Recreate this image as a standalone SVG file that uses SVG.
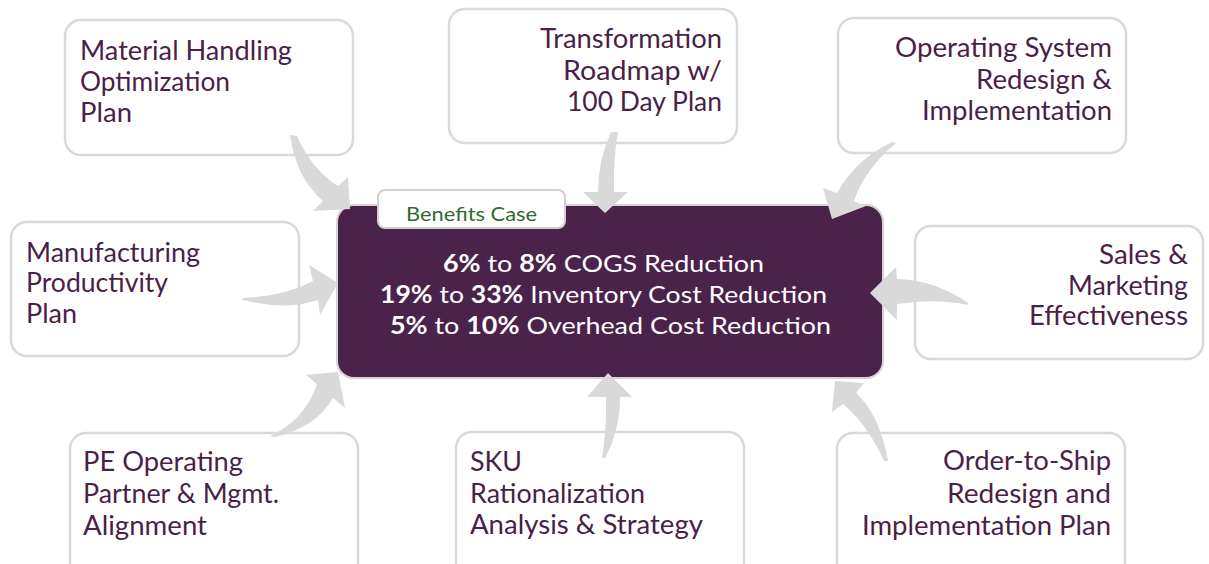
<svg xmlns="http://www.w3.org/2000/svg" width="1209" height="564" viewBox="0 0 1209 564">
<style>
.box{fill:#ffffff;stroke:#d9d9d9;stroke-width:2.5}
.lbl{font-family:Lato,"Noto Sans","Liberation Sans",sans-serif;font-size:27px;fill:#4a1f48}
.arrow{fill:#d9d9d9}
.ctr{font-family:Lato,"Noto Sans","Liberation Sans",sans-serif;font-size:24px;fill:#ffffff}
.b{font-weight:700}
</style>
<rect width="1209" height="564" fill="#ffffff"/>
<g id="node-material">
<rect class="box" x="65" y="20" width="288" height="135" rx="16"/>
<text class="lbl" x="80" y="60" textLength="212" lengthAdjust="spacingAndGlyphs">Material Handling</text>
<text class="lbl" x="80" y="91" textLength="150" lengthAdjust="spacingAndGlyphs">Optimization</text>
<text class="lbl" x="80" y="122" textLength="52" lengthAdjust="spacingAndGlyphs">Plan</text>
</g>
<g id="node-transformation">
<rect class="box" x="449" y="9" width="288" height="134" rx="16"/>
<text class="lbl" x="540" y="48" textLength="182" lengthAdjust="spacingAndGlyphs">Transformation</text>
<text class="lbl" x="563" y="80" textLength="159" lengthAdjust="spacingAndGlyphs">Roadmap w/</text>
<text class="lbl" x="567" y="111" textLength="155" lengthAdjust="spacingAndGlyphs">100 Day Plan</text>
</g>
<g id="node-opsys">
<rect class="box" x="838" y="18" width="288" height="135" rx="16"/>
<text class="lbl" x="895" y="57" textLength="217" lengthAdjust="spacingAndGlyphs">Operating System</text>
<text class="lbl" x="976" y="89" textLength="136" lengthAdjust="spacingAndGlyphs">Redesign &amp;</text>
<text class="lbl" x="922" y="120" textLength="190" lengthAdjust="spacingAndGlyphs">Implementation</text>
</g>
<g id="node-manufacturing">
<rect class="box" x="11" y="222" width="288" height="134" rx="16"/>
<text class="lbl" x="26" y="262" textLength="174" lengthAdjust="spacingAndGlyphs">Manufacturing</text>
<text class="lbl" x="26" y="292" textLength="142" lengthAdjust="spacingAndGlyphs">Productivity</text>
<text class="lbl" x="26" y="323" textLength="51" lengthAdjust="spacingAndGlyphs">Plan</text>
</g>
<g id="node-sales">
<rect class="box" x="915" y="226" width="288" height="133" rx="16"/>
<text class="lbl" x="1099" y="264" textLength="89" lengthAdjust="spacingAndGlyphs">Sales &amp;</text>
<text class="lbl" x="1068" y="295" textLength="120" lengthAdjust="spacingAndGlyphs">Marketing</text>
<text class="lbl" x="1029" y="325" textLength="159" lengthAdjust="spacingAndGlyphs">Effectiveness</text>
</g>
<g id="node-pe">
<rect class="box" x="70" y="433" width="288" height="150" rx="16"/>
<text class="lbl" x="83" y="471" textLength="160" lengthAdjust="spacingAndGlyphs">PE Operating</text>
<text class="lbl" x="83" y="503" textLength="196" lengthAdjust="spacingAndGlyphs">Partner &amp; Mgmt.</text>
<text class="lbl" x="83" y="535" textLength="124" lengthAdjust="spacingAndGlyphs">Alignment</text>
</g>
<g id="node-sku">
<rect class="box" x="456" y="432" width="288" height="150" rx="16"/>
<text class="lbl" x="470" y="471" textLength="52" lengthAdjust="spacingAndGlyphs">SKU</text>
<text class="lbl" x="470" y="503" textLength="175" lengthAdjust="spacingAndGlyphs">Rationalization</text>
<text class="lbl" x="470" y="534" textLength="233" lengthAdjust="spacingAndGlyphs">Analysis &amp; Strategy</text>
</g>
<g id="node-order">
<rect class="box" x="837" y="433" width="288" height="150" rx="16"/>
<text class="lbl" x="943" y="470" textLength="168" lengthAdjust="spacingAndGlyphs">Order-to-Ship</text>
<text class="lbl" x="947" y="503" textLength="164" lengthAdjust="spacingAndGlyphs">Redesign and</text>
<text class="lbl" x="862" y="535" textLength="249" lengthAdjust="spacingAndGlyphs">Implementation Plan</text>
</g>
<g id="node-center">
<rect x="337" y="205" width="546" height="173" rx="17" fill="#4b2249" stroke="#d4d4d4" stroke-width="2"/>
<text class="ctr" x="443" y="272" textLength="321" lengthAdjust="spacingAndGlyphs"><tspan class="b">6%</tspan> to <tspan class="b">8%</tspan> COGS Reduction</text>
<text class="ctr" x="380" y="303" textLength="447" lengthAdjust="spacingAndGlyphs"><tspan class="b">19%</tspan> to <tspan class="b">33%</tspan> Inventory Cost Reduction</text>
<text class="ctr" x="390" y="334" textLength="441" lengthAdjust="spacingAndGlyphs"><tspan class="b">5%</tspan> to <tspan class="b">10%</tspan> Overhead Cost Reduction</text>
</g>
<g id="connectors">
<path class="arrow" d="M290,135 Q296,178 323,201 L313,211 L350,209 L348,177 L338,186 Q312,170 297,136 Z"/>
<path class="arrow" d="M611,132 Q598,160 598,192 L583,192 L605,213 L628,192 L614,192 Q613,160 618,132 Z"/>
<path class="arrow" d="M892,142 Q855,160 837,193 L823,188 L832,219 L866,206 L854,201 Q864,170 896,143 Z"/>
<path class="arrow" d="M243,298 Q285,296 313,281 L309,265 L338,283 L320,315 L318,300 Q285,311 243,300 Z"/>
<path class="arrow" d="M968,303 Q935,280 897,279 L896,267 L870,293 L897,320 L897,304 Q935,298 968,305 Z"/>
<path class="arrow" d="M270,436 Q305,420 317,384 L306,375 L338,372 L345,408 L333,398 Q315,428 275,437 Z"/>
<path class="arrow" d="M602,458 Q607,425 606,397 L587,397 L608,373 L632,397 L620,397 Q620,430 605,458 Z"/>
<path class="arrow" d="M888,461 Q880,415 856,393 L864,383 L835,381 L832,412 L843,404 Q868,425 884,461 Z"/>
</g>
<g id="node-benefits">
<rect x="378" y="190" width="187" height="38" rx="7" fill="#ffffff" stroke="#d0d0d0" stroke-width="2"/>
<text x="406" y="221" textLength="131" lengthAdjust="spacingAndGlyphs" style="font-family:Lato,'Noto Sans','Liberation Sans',sans-serif;font-size:20px;fill:#2f6a31">Benefits Case</text>
</g>
</svg>
